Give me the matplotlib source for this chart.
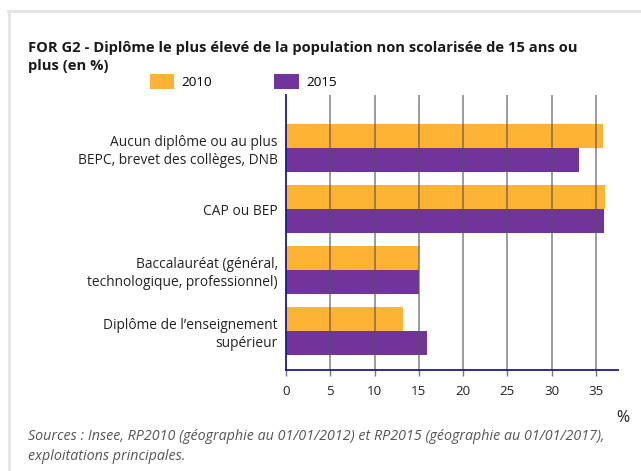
import numpy as np
import matplotlib.pyplot as plt
from matplotlib.lines import Line2D

# Données
categories = [
    "Aucun diplôme ou au plus\nBEPC, brevet des collèges, DNB",
    "CAP ou BEP",
    "Baccalauréat (général,\ntechnologique, professionnel)",
    "Diplôme de l\u2019enseignement\nsupérieur",
]
valeurs_2010 = [35.8, 36.0, 15.0, 13.2]
valeurs_2015 = [33.1, 35.9, 15.0, 15.9]
annees = ["2010", "2015"]
ticks_x = [0, 5, 10, 15, 20, 25, 30, 35]

couleur_2010 = "#FFB334"
couleur_2015 = "#70349A"
bleu_axe = "#1a1a8c"

plt.rcParams['font.family'] = ['Open Sans', 'DejaVu Sans']

W, H = 641, 471
fig = plt.figure(figsize=(W / 100, H / 100), dpi=100)
ax = fig.add_axes([286 / W, 1 - 370 / H, (618 - 286) / W, (370 - 95) / H])

y = np.arange(len(categories))
h = 0.39
ax.barh(y - h / 2, valeurs_2010, height=h, color=couleur_2010, label=annees[0], zorder=1)
ax.barh(y + h / 2, valeurs_2015, height=h, color=couleur_2015, label=annees[1], zorder=1)

ax.set_xlim(0, 37.5)
ax.set_ylim(3.64, -0.87)

# grille verticale (dessinée par-dessus les barres)
for t in ticks_x[1:]:
    ax.axvline(t, color="#555555", alpha=0.75, lw=1.1, zorder=2)

ax.set_xticks(ticks_x)
ax.set_xticklabels([str(t) for t in ticks_x])
ax.set_yticks(y)
ax.set_yticklabels(categories, fontsize=9.9, color="#222222", ha="right", ma="right",
                   linespacing=1.25)
ax.tick_params(axis="y", length=0, pad=6)
ax.tick_params(axis="x", length=4, width=1, color="#777777", pad=7, labelsize=9.6,
               labelcolor="#222222")

for s in ["top", "right"]:
    ax.spines[s].set_visible(False)
for s in ["left", "bottom"]:
    ax.spines[s].set_color(bleu_axe)
    ax.spines[s].set_linewidth(1.3)
    ax.spines[s].set_zorder(3)

# légende
ax.legend(loc="center left", bbox_to_anchor=(150 / W, 1 - 81.5 / H),
          bbox_transform=fig.transFigure, ncol=2, frameon=False,
          borderpad=0, borderaxespad=0, handlelength=1.8, handleheight=1.3,
          handletextpad=0.55, columnspacing=4.6, fontsize=9.7)

# titre
fig.text(28 / W, 1 - 48 / H, "FOR G2 - Diplôme le plus élevé de la population non scolarisée de 15 ans ou",
         fontsize=10.6, fontweight="bold", color="#1a1a1a", va="center")
fig.text(28 / W, 1 - 66 / H, "plus (en %)",
         fontsize=10.6, fontweight="bold", color="#1a1a1a", va="center")

fig.text(623 / W, 1 - 418 / H, "%", fontsize=11.5, color="#222222", ha="center", va="center")

fig.text(28 / W, 1 - 436 / H,
         "Sources : Insee, RP2010 (géographie au 01/01/2012) et RP2015 (géographie au 01/01/2017),",
         fontsize=10.3, style="italic", color="#555555", va="center")
fig.text(28 / W, 1 - 456 / H, "exploitations principales.",
         fontsize=10.3, style="italic", color="#555555", va="center")

# cadre gris clair
fig.add_artist(Line2D([8.5 / W, 8.5 / W], [0, 1 - 11 / H], transform=fig.transFigure,
                      color="#e3e3e3", lw=2))
fig.add_artist(Line2D([8 / W, 1], [1 - 11 / H, 1 - 11 / H], transform=fig.transFigure,
                      color="#e3e3e3", lw=2))

fig.savefig("out.png", dpi=100)
